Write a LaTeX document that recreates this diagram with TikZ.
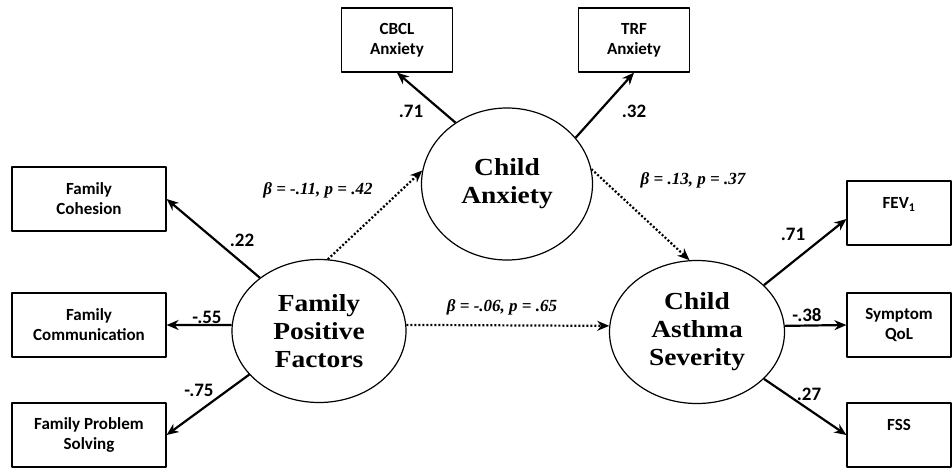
\documentclass[tikz,border=0pt]{standalone}
\usepackage{fontspec}
\setmainfont{Liberation Serif}
\newfontfamily\boxfont{Carlito}
\newfontfamily\latentfont{Liberation Serif}[FakeStretch=1.12]
\usetikzlibrary{shapes.geometric,arrows.meta}

\tikzset{
    obs/.style={draw, line width=1.2pt, minimum height=64pt, align=center,
        inner sep=2pt, font=\boxfont\bfseries\fontsize{17}{20}\selectfont},
    latent/.style={draw, ellipse, line width=1.2pt, align=center, inner sep=0pt,
        font=\latentfont\bfseries\fontsize{24.5}{28}\selectfont},
    load/.style={line width=2.2pt, -{Stealth[length=12pt,width=10pt]}},
    path/.style={line width=2.2pt, dash pattern=on 2pt off 2pt, -{Stealth[length=12pt,width=10pt]}},
    num/.style={font=\boxfont\bfseries\fontsize{19}{20}\selectfont},
    coef/.style={font=\bfseries\itshape\fontsize{17}{18}\selectfont}
}

\begin{document}
\begin{tikzpicture}[x=1pt, y=-1pt, line join = round]
    \useasboundingbox (0,0) rectangle (952,469);

    % latent variables
    \node[latent, minimum width=174pt, minimum height=143pt] (fpf) at (319,331) {Family\\Positive\\Factors};
    \node[latent, minimum width=171pt, minimum height=152pt] (ca) at (507,184) {Child\\Anxiety};
    \node[latent, minimum width=175pt, minimum height=143pt] (cas) at (697,332) {Child\\Asthma\\Severity};

    % indicators
    \node[obs, minimum width=154pt] (coh) at (89,199) {Family\\Cohesion};
    \node[obs, minimum width=154pt] (comm) at (89,325) {Family\\Communication};
    \node[obs, minimum width=154pt] (solv) at (89,435) {Family Problem\\Solving};
    \node[obs, minimum width=111pt] (cbcl) at (397,40) {CBCL\\Anxiety};
    \node[obs, minimum width=111pt] (trf) at (634,40) {TRF\\Anxiety};
    \node[obs, minimum width=104pt] (fev) at (899,213) {FEV\textsubscript{1}\\~};
    \node[obs, minimum width=104pt] (qol) at (899,325) {Symptom\\QoL};
    \node[obs, minimum width=104pt] (fss) at (899,435) {FSS\\~};

    % loadings
    \draw[load] (fpf.138) -- (coh.east);
    \draw[load] (fpf.176) -- (comm.east);
    \draw[load] (fpf.212) -- (solv.east);
    \draw[load] (ca.130) -- (cbcl.south);
    \draw[load] (ca.34) -- (trf.south);
    \draw[load] (cas.35) -- ([yshift=-6pt]fev.west);
    \draw[load] (cas.4) -- (qol.west);
    \draw[load] (cas.325) -- (fss.west);

    % structural paths
    \draw[path] (fpf.83) -- (ca.171);
    \draw[path] (ca.10) -- (cas.96);
    \draw[path] (fpf.4) -- (cas.176);

    \node[num] (n22) at (242,240) {.22};
    \node[num] (n55) at (207,317) {-.55};
    \node[num] (n75) at (199,390) {-.75};
    \node[num] (n71a) at (411,111) {.71};
    \node[num] (n32) at (634,111) {.32};
    \node[num] (n71b) at (793,234) {.71};
    \node[num] (n38) at (807,315) {-.38};
    \node[num] (n27) at (809,394) {.27};

    \node[coef] (b1) at (318,190) {β = -.11, p = .42};
    \node[coef] (b2) at (693,180) {β = .13, p = .37};
    \node[coef] (b3) at (502,307) {β = -.06, p = .65};
\end{tikzpicture}
\end{document}
